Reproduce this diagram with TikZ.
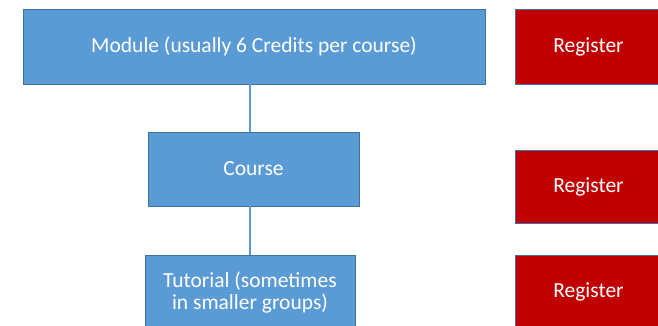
\documentclass[tikz,border=0pt]{standalone}
\usepackage{fontspec}
\setmainfont{Carlito}
\definecolor{boxblue}{HTML}{5B9BD5}
\definecolor{edgeblue}{HTML}{41719C}
\definecolor{regred}{HTML}{C00000}
\begin{document}
\begin{tikzpicture}[x=1pt,y=-1pt,
  bluebox/.style={draw=edgeblue,fill=boxblue,line width=0.9pt,text=white,font=\fontsize{21.5}{22}\selectfont,align=center,inner sep=0pt},
  regbox/.style={draw=edgeblue,fill=regred,line width=0.9pt,text=white,font=\fontsize{21.5}{22}\selectfont,inner sep=0pt},
  link/.style={draw=boxblue,line width=1.3pt}]
\useasboundingbox (0,0) rectangle (658,325);
\begin{scope}
\clip (0,0) rectangle (658,325);
\node[bluebox,minimum width=462pt,minimum height=75pt] (module) at (254,46.5) {Module (usually 6 Credits per course)};
\node[bluebox,minimum width=211pt,minimum height=74pt] (course) at (253.5,169) {Course};
\node[bluebox,minimum width=210pt,minimum height=74pt] (tutorial) at (250,292) {Tutorial (sometimes\\in smaller groups)};
\node[regbox,minimum width=147pt,minimum height=75pt] (reg1) at (588.5,46.5) {Register};
\node[regbox,minimum width=147pt,minimum height=73pt] (reg2) at (588.5,186.5) {Register};
\node[regbox,minimum width=147pt,minimum height=74pt] (reg3) at (588.5,292) {Register};
\draw[link] (module.south -| course.north) ++(-3.5,0) coordinate (m1) -- (m1 |- course.north);
\draw[link] (course.south) ++(-3.5,0) coordinate (c1) -- (c1 |- tutorial.north);
\end{scope}
\end{tikzpicture}
\end{document}
